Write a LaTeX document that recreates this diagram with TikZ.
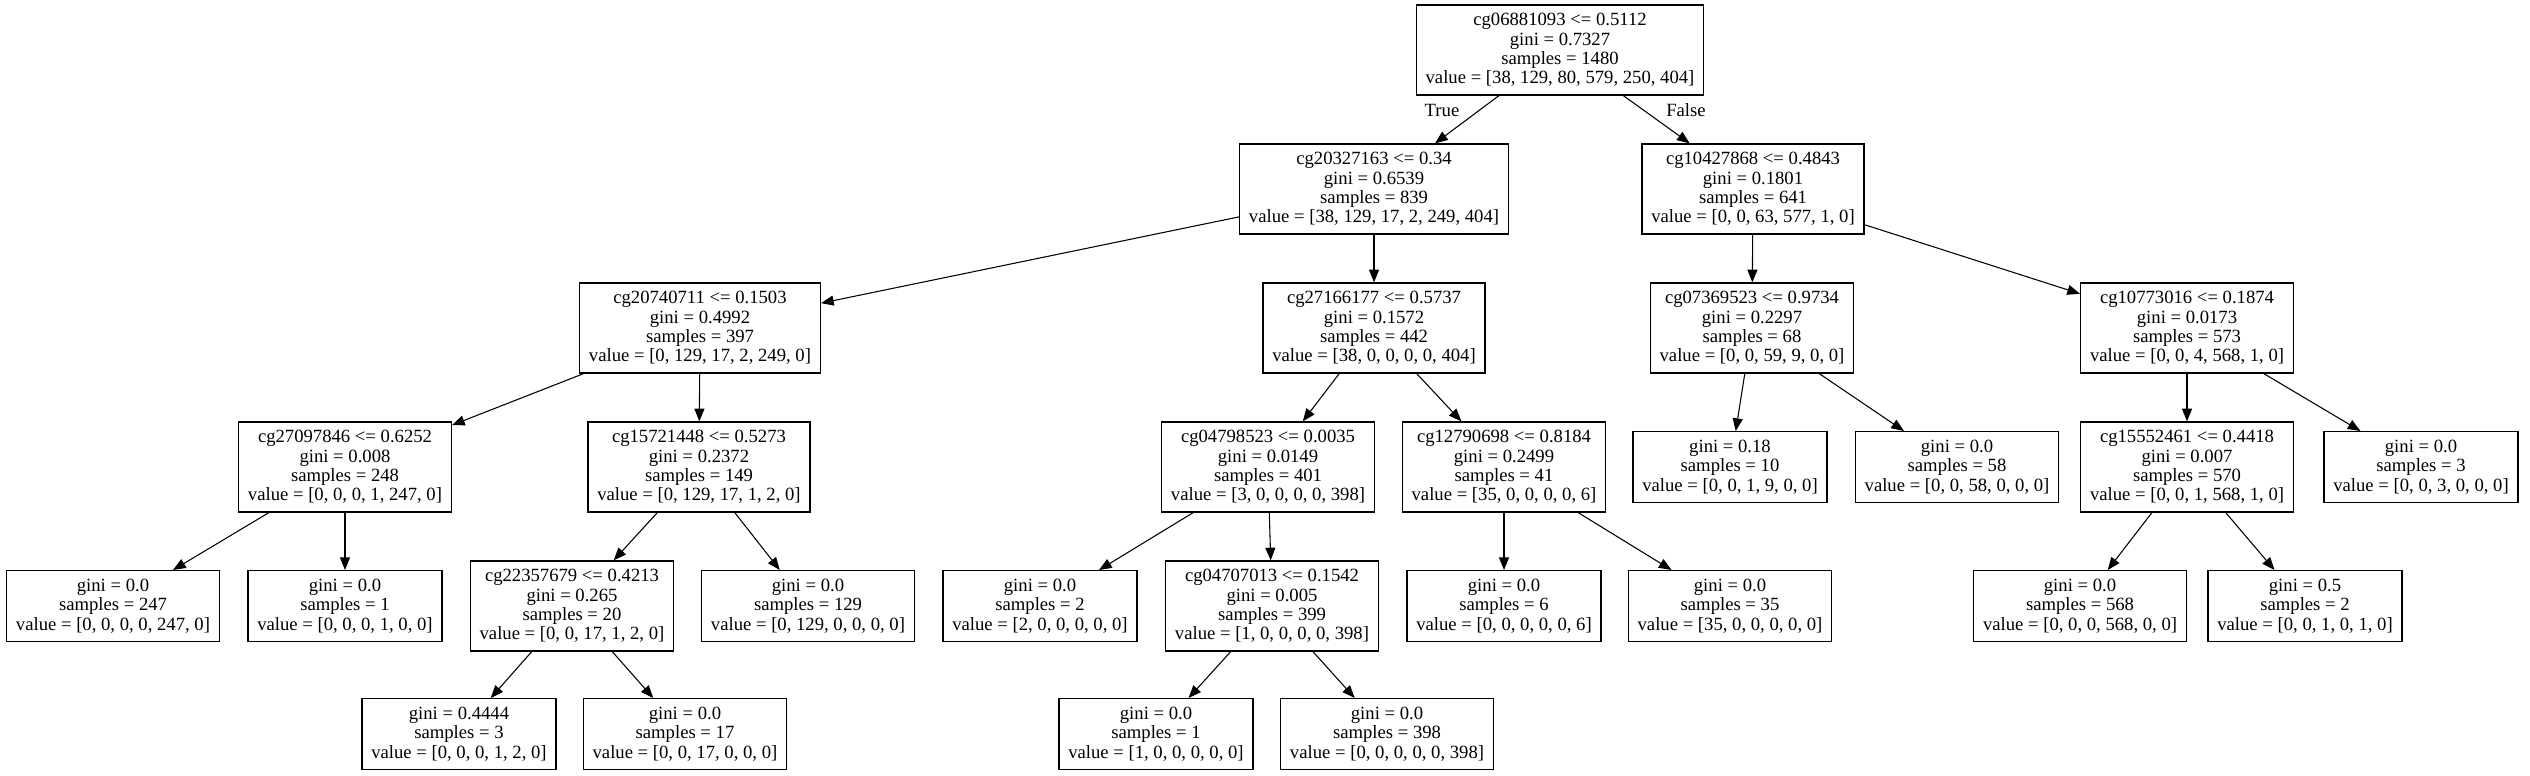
\documentclass[tikz,border=0pt]{standalone}
\usepackage{fontspec}
\setmainfont{Liberation Serif}
\usetikzlibrary{arrows.meta}
\tikzset{
  box/.style={draw=black, line width=1pt, rectangle, align=center, inner xsep=7pt, inner ysep=2pt,
    font=\fontsize{14}{14.6}\selectfont},
  inode/.style={box, minimum height=67.5pt},
  leaf/.style={box, minimum height=53pt},
  edge/.style={draw=black, line width=0.8pt, -{Triangle[length=9.5pt,width=7.5pt]}},
  elabel/.style={font=\fontsize{14}{14.6}\selectfont, inner sep=0pt}
}
\begin{document}
\begin{tikzpicture}[x=0.75pt, y=-0.75pt]
\useasboundingbox (0,0) rectangle (2530,775);
\fill[white] (0,0) rectangle (2530,775);
% level 0
\node[inode] (n0) at (1560,50) {cg06881093 <= 0.5112\\gini = 0.7327\\samples = 1480\\value = [38, 129, 80, 579, 250, 404]};
% level 1
\node[inode] (n1) at (1374,189) {cg20327163 <= 0.34\\gini = 0.6539\\samples = 839\\value = [38, 129, 17, 2, 249, 404]};
\node[inode] (n2) at (1753,189) {cg10427868 <= 0.4843\\gini = 0.1801\\samples = 641\\value = [0, 0, 63, 577, 1, 0]};
% level 2
\node[inode] (n3) at (700,328) {cg20740711 <= 0.1503\\gini = 0.4992\\samples = 397\\value = [0, 129, 17, 2, 249, 0]};
\node[inode] (n4) at (1374,328) {cg27166177 <= 0.5737\\gini = 0.1572\\samples = 442\\value = [38, 0, 0, 0, 0, 404]};
\node[inode] (n5) at (1752,328) {cg07369523 <= 0.9734\\gini = 0.2297\\samples = 68\\value = [0, 0, 59, 9, 0, 0]};
\node[inode] (n6) at (2187,328) {cg10773016 <= 0.1874\\gini = 0.0173\\samples = 573\\value = [0, 0, 4, 568, 1, 0]};
% level 3
\node[inode] (n7) at (345,467) {cg27097846 <= 0.6252\\gini = 0.008\\samples = 248\\value = [0, 0, 0, 1, 247, 0]};
\node[inode] (n8) at (699,467) {cg15721448 <= 0.5273\\gini = 0.2372\\samples = 149\\value = [0, 129, 17, 1, 2, 0]};
\node[inode] (n9) at (1268,467) {cg04798523 <= 0.0035\\gini = 0.0149\\samples = 401\\value = [3, 0, 0, 0, 0, 398]};
\node[inode] (n10) at (1504,467) {cg12790698 <= 0.8184\\gini = 0.2499\\samples = 41\\value = [35, 0, 0, 0, 0, 6]};
\node[leaf] (n11) at (1730,467) {gini = 0.18\\samples = 10\\value = [0, 0, 1, 9, 0, 0]};
\node[leaf] (n12) at (1957,467) {gini = 0.0\\samples = 58\\value = [0, 0, 58, 0, 0, 0]};
\node[inode] (n13) at (2187,467) {cg15552461 <= 0.4418\\gini = 0.007\\samples = 570\\value = [0, 0, 1, 568, 1, 0]};
\node[leaf] (n14) at (2421,467) {gini = 0.0\\samples = 3\\value = [0, 0, 3, 0, 0, 0]};
% level 4
\node[leaf] (n15) at (113,606) {gini = 0.0\\samples = 247\\value = [0, 0, 0, 0, 247, 0]};
\node[leaf] (n16) at (345,606) {gini = 0.0\\samples = 1\\value = [0, 0, 0, 1, 0, 0]};
\node[inode] (n17) at (572,606) {cg22357679 <= 0.4213\\gini = 0.265\\samples = 20\\value = [0, 0, 17, 1, 2, 0]};
\node[leaf] (n18) at (808,606) {gini = 0.0\\samples = 129\\value = [0, 129, 0, 0, 0, 0]};
\node[leaf] (n19) at (1040,606) {gini = 0.0\\samples = 2\\value = [2, 0, 0, 0, 0, 0]};
\node[inode] (n20) at (1272,606) {cg04707013 <= 0.1542\\gini = 0.005\\samples = 399\\value = [1, 0, 0, 0, 0, 398]};
\node[leaf] (n21) at (1504,606) {gini = 0.0\\samples = 6\\value = [0, 0, 0, 0, 0, 6]};
\node[leaf] (n22) at (1730,606) {gini = 0.0\\samples = 35\\value = [35, 0, 0, 0, 0, 0]};
\node[leaf] (n23) at (2080,606) {gini = 0.0\\samples = 568\\value = [0, 0, 0, 568, 0, 0]};
\node[leaf] (n24) at (2305,606) {gini = 0.5\\samples = 2\\value = [0, 0, 1, 0, 1, 0]};
% level 5
\node[leaf] (n25) at (459,734) {gini = 0.4444\\samples = 3\\value = [0, 0, 0, 1, 2, 0]};
\node[leaf] (n26) at (685,734) {gini = 0.0\\samples = 17\\value = [0, 0, 17, 0, 0, 0]};
\node[leaf] (n27) at (1156,734) {gini = 0.0\\samples = 1\\value = [1, 0, 0, 0, 0, 0]};
\node[leaf] (n28) at (1387,734) {gini = 0.0\\samples = 398\\value = [0, 0, 0, 0, 0, 398]};
% edges
\draw[edge] (n0) -- (n1);
\draw[edge] (n0) -- (n2);
\draw[edge] (n1) -- (n3);
\draw[edge] (n1) -- (n4);
\draw[edge] (n2) -- (n5);
\draw[edge] (n2) -- (n6);
\draw[edge] (n3) -- (n7);
\draw[edge] (n3) -- (n8);
\draw[edge] (n4) -- (n9);
\draw[edge] (n4) -- (n10);
\draw[edge] (n5) -- (n11);
\draw[edge] (n5) -- (n12);
\draw[edge] (n6) -- (n13);
\draw[edge] (n6) -- (n14);
\draw[edge] (n7) -- (n15);
\draw[edge] (n7) -- (n16);
\draw[edge] (n8) -- (n17);
\draw[edge] (n8) -- (n18);
\draw[edge] (n9) -- (n19);
\draw[edge] (n9) -- (n20);
\draw[edge] (n10) -- (n21);
\draw[edge] (n10) -- (n22);
\draw[edge] (n13) -- (n23);
\draw[edge] (n13) -- (n24);
\draw[edge] (n17) -- (n25);
\draw[edge] (n17) -- (n26);
\draw[edge] (n20) -- (n27);
\draw[edge] (n20) -- (n28);
% edge labels
\node[elabel] (ltrue) at (1442,110) {True};
\node[elabel] (lfalse) at (1686,110) {False};
\end{tikzpicture}
\end{document}
